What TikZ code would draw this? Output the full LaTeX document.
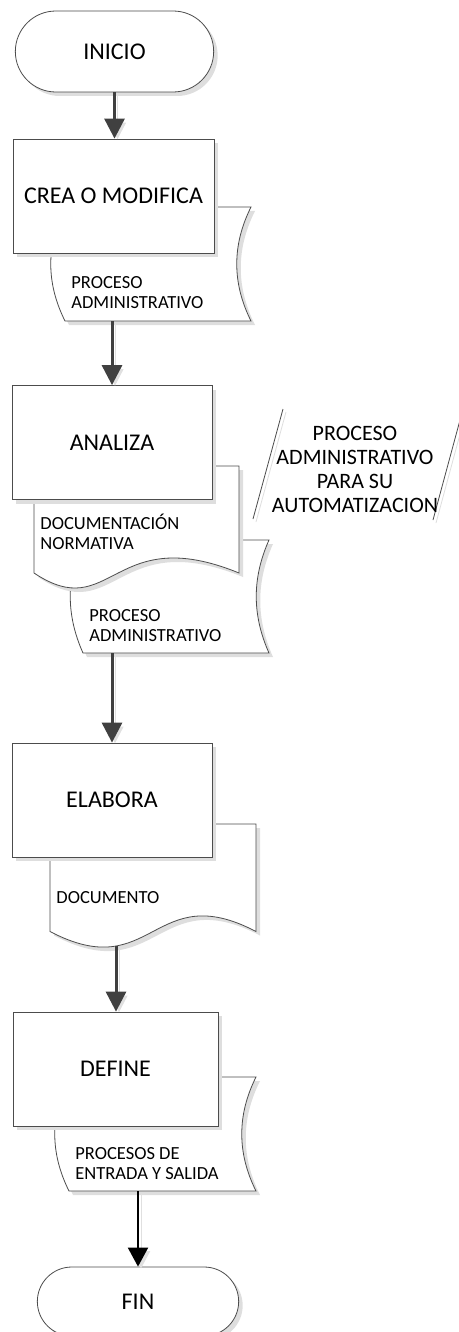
\documentclass[tikz,border=0pt]{standalone}
\usepackage{fontspec}
\setmainfont{Carlito}
\usetikzlibrary{arrows.meta,shapes.misc,shadows}
\tikzset{
  shdw/.style    = {drop shadow={shadow xshift=4pt, shadow yshift=-4pt, fill=black!13, opacity=1}},
  term/.style    = {rounded rectangle, draw=black!70, fill=white, shdw, minimum width=205pt,
                    minimum height=81pt, font=\fontsize{24}{28}\selectfont},
  stepbox/.style = {rectangle, draw=black!70, fill=white, shdw, minimum width=200pt,
                    minimum height=114pt, font=\fontsize{24}{28}\selectfont},
  store/.style   = {draw=black!70, fill=white, shdw},
  doc/.style     = {draw=black!70, fill=white, shdw},
  lbl/.style     = {anchor=west, inner sep=0pt, align=left, font=\fontsize{18.5}{20}\selectfont},
  slant/.style   = {draw=black!70, preaction={draw=black!13, transform canvas={shift={(3pt,-3pt)}}}},
  flow/.style    = {-{Triangle[length=20pt, width=20pt]}, line width=3pt, draw=black!75,
                    preaction={draw=black!12, transform canvas={shift={(3pt,-3pt)}}}},
  bflow/.style   = {-{Triangle[length=19pt, width=20pt]}, line width=2pt, draw=black,
                    preaction={draw=black!12, transform canvas={shift={(3pt,-3pt)}}}},
}
\begin{document}
\begin{tikzpicture}[x=1pt, y=-1pt, line width=0.8pt]
  \useasboundingbox (0,0) rectangle (458,1332);

  \node[term] (ini) at (114.5,51.5) {INICIO};

  % crea o modifica
  \draw[store] (65,207) -- (251,207) .. controls (232,245) and (232,283) .. (251,321)
    -- (65,321) .. controls (46,283) and (46,245) .. cycle;
  \node[stepbox, minimum width=201pt] (cre) at (113.5,196) {CREA O MODIFICA};
  \node[lbl] (pa1) at (71,293) {PROCESO\\ADMINISTRATIVO};
  \coordinate (pa1s) at (112,321);

  % analiza
  \draw[store] (83,540) -- (269,540) .. controls (252,578) and (252,615) .. (269,653)
    -- (83,653) .. controls (66,615) and (66,578) .. cycle;
  \draw[doc] (34,466) -- (239,466) -- (239,573) .. controls (112,521) and (112,625) .. (34,573) -- cycle;
  \node[stepbox] (ana) at (112,442.5) {ANALIZA};
  \node[lbl] (dnorm) at (40,532) {DOCUMENTACIÓN\\NORMATIVA};
  \node[lbl] (pa2) at (89,626) {PROCESO\\ADMINISTRATIVO};
  \coordinate (pa2s) at (112,653);

  % proceso para su automatizacion
  \draw[slant] (283,409) -- (253,519);
  \draw[slant] (463,409) -- (433,520);
  \node[align=center, inner sep=0pt, font=\fontsize{22}{24}\selectfont] (auto) at (355,469.5)
    {PROCESO\\ADMINISTRATIVO\\PARA SU\\AUTOMATIZACION};

  % elabora
  \draw[doc] (50,824) -- (256,824) -- (256,931.5) .. controls (153,877.5) and (153,985.5) .. (50,931.5) -- cycle;
  \node[stepbox] (ela) at (112,800) {ELABORA};
  \node[lbl] (docu) at (56,898) {DOCUMENTO};
  \coordinate (docus) at (116,946);

  % define
  \draw[store] (69,1077) -- (256,1077) .. controls (237,1115) and (237,1153) .. (256,1191)
    -- (69,1191) .. controls (50,1153) and (50,1115) .. cycle;
  \node[stepbox, minimum width=205pt] (def) at (115.5,1069) {DEFINE};
  \node[lbl] (pes) at (75,1163.5) {PROCESOS DE\\ENTRADA Y SALIDA};
  \coordinate (pess) at (138,1191);

  \node[term, minimum width=208pt, minimum height=69pt] (fin) at (138,1301.5) {FIN};

  \draw[flow] (ini.south) -- (ini.south |- cre.north);
  \draw[flow] (pa1s) -- (pa1s |- ana.north);
  \draw[flow] (pa2s) -- (pa2s |- ela.north);
  \draw[flow] (docus) -- (docus |- def.north);
  \draw[bflow] (pess) -- (pess |- fin.north);
\end{tikzpicture}
\end{document}
